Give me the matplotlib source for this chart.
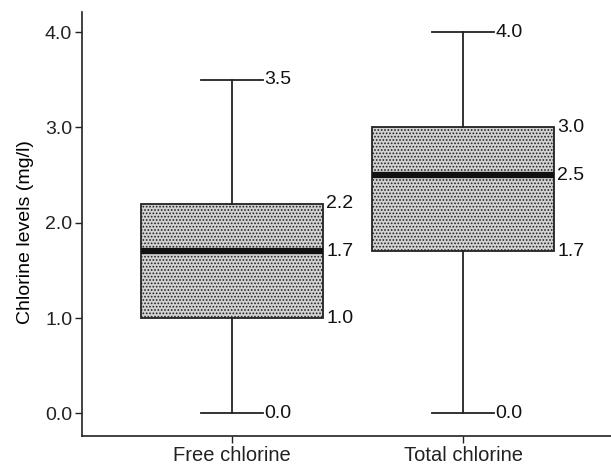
import matplotlib.pyplot as plt
import matplotlib as mpl

mpl.rcParams['font.family'] = ['Liberation Sans', 'DejaVu Sans']
mpl.rcParams['hatch.color'] = '#a8a8a8'
mpl.rcParams['hatch.linewidth'] = 0.8

categories = ['Free chlorine', 'Total chlorine']
whisker_low = [0.0, 0.0]
q1 = [1.0, 1.7]
medians = [1.7, 2.5]
q3 = [2.2, 3.0]
whisker_high = [3.5, 4.0]
yticks = [0.0, 1.0, 2.0, 3.0, 4.0]

positions = [1, 2]
box_w = 0.79
cap_w = 0.27

stats = []
for i, name in enumerate(categories):
    stats.append(dict(label=name, whislo=whisker_low[i], q1=q1[i], med=medians[i],
                      q3=q3[i], whishi=whisker_high[i], fliers=[]))

fig = plt.figure(figsize=(6.11, 4.67), dpi=100)
ax = fig.add_axes([0.134, 0.066, 0.866, 0.908])

bp = ax.bxp(stats, positions=positions, widths=box_w, patch_artist=True,
            showfliers=False,
            boxprops=dict(facecolor='#d2d2d2', edgecolor='#222222', linewidth=1.3, hatch='.....'),
            medianprops=dict(color='#111111', linewidth=4.5, solid_capstyle='butt'),
            whiskerprops=dict(color='#222222', linewidth=1.3),
            capprops=dict(color='#222222', linewidth=1.3),
            capwidths=cap_w)

fs = 14
for i, p in enumerate(positions):
    for v in (whisker_low[i], whisker_high[i]):
        ax.annotate(f'{v:.1f}', (p + cap_w / 2, v), xytext=(1, 0), textcoords='offset points',
                    va='center', ha='left', fontsize=fs, color='#111111')
    for v in (q1[i], medians[i], q3[i]):
        ax.annotate(f'{v:.1f}', (p + box_w / 2, v), xytext=(2, 0), textcoords='offset points',
                    va='center', ha='left', fontsize=fs, color='#111111')

ax.set_xlim(0.35, 2.64)
ax.set_ylim(-0.24, 4.21)
ax.set_yticks(yticks)
ax.set_yticklabels([f'{t:.1f}' for t in yticks])
ax.set_xticks(positions)
ax.set_xticklabels(categories, fontsize=14.5)
ax.set_ylabel('Chlorine levels (mg/l)', fontsize=14)
ax.yaxis.set_label_coords(-0.09, 0.482)
ax.tick_params(axis='y', labelsize=fs)
ax.tick_params(direction='out', length=5, width=1, colors='#222222', pad=2)
for s in ('top', 'right'):
    ax.spines[s].set_visible(False)
for s in ('left', 'bottom'):
    ax.spines[s].set_linewidth(1.2)
    ax.spines[s].set_color('#222222')

fig.savefig('out.png', dpi=100)
